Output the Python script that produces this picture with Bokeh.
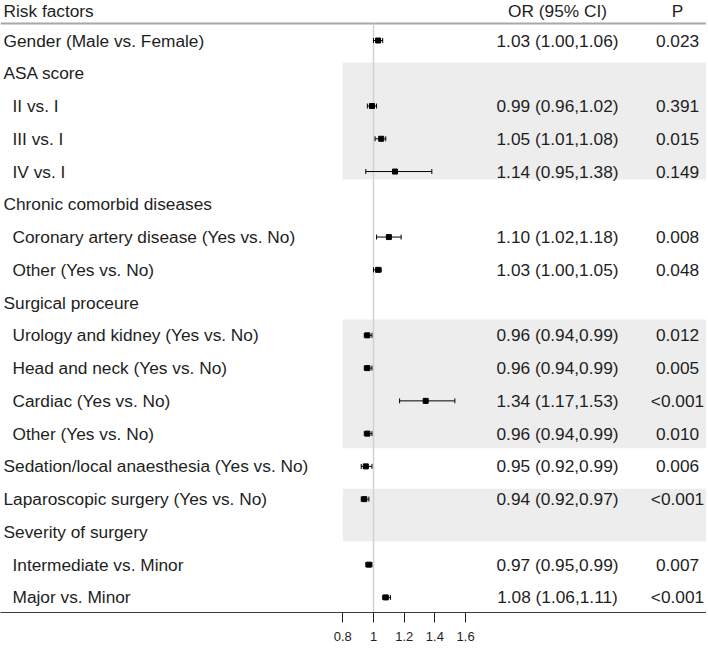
from bokeh.plotting import figure
from bokeh.models import Range1d, LinearAxis, FixedTicker, ColumnDataSource, Whisker, TeeHead
from bokeh.core.properties import value
from bokeh.embed import file_html
from bokeh.resources import INLINE

# ---------------- data ----------------
labels = [
    "Gender (Male vs. Female)",
    "ASA score",
    "II vs. I",
    "III vs. I",
    "IV vs. I",
    "Chronic comorbid diseases",
    "Coronary artery disease (Yes vs. No)",
    "Other (Yes vs. No)",
    "Surgical proceure",
    "Urology and kidney (Yes vs. No)",
    "Head and neck (Yes vs. No)",
    "Cardiac (Yes vs. No)",
    "Other (Yes vs. No)",
    "Sedation/local anaesthesia (Yes vs. No)",
    "Laparoscopic surgery (Yes vs. No)",
    "Severity of surgery",
    "Intermediate vs. Minor",
    "Major vs. Minor",
]
indent = [0, 0, 1, 1, 1, 0, 1, 1, 0, 1, 1, 1, 1, 0, 0, 0, 1, 1]
or_est = [1.03, None, 0.99, 1.05, 1.14, None, 1.10, 1.03, None, 0.96, 0.96, 1.34, 0.96, 0.95, 0.94, None, 0.97, 1.08]
ci_low = [1.00, None, 0.96, 1.01, 0.95, None, 1.02, 1.00, None, 0.94, 0.94, 1.17, 0.94, 0.92, 0.92, None, 0.95, 1.06]
ci_high = [1.06, None, 1.02, 1.08, 1.38, None, 1.18, 1.05, None, 0.99, 0.99, 1.53, 0.99, 0.99, 0.97, None, 0.99, 1.11]
p_values = ["0.023", "", "0.391", "0.015", "0.149", "", "0.008", "0.048", "", "0.012", "0.005", "<0.001",
            "0.010", "0.006", "<0.001", "", "0.007", "<0.001"]
header_labels = ["Risk factors", "OR (95% CI)", "P"]
tick_vals = [0.8, 1.0, 1.2, 1.4, 1.6]
tick_labels = ["0.8", "1", "1.2", "1.4", "1.6"]

# ---------------- layout / style ----------------
W, H = 706, 648
AXIS_H = 36
FRAME_H = H - AXIS_H
ONE_PX, UNIT_PX = 373.0, 153.5       # pixel of OR=1 and pixels per OR unit
ROW0_PX, ROW_PX = 40.0, 32.76         # pixel of first row and row pitch
FONT = "Liberation Sans"
FS = "17.3px"
TXT = "#1e1e1e"
BAND = "#ededed"
HEADER_ROW = -0.915
HEADER_LINE = -0.52
band_top = [0.67, 8.52, 13.68]
band_bottom = [4.24, 12.45, 15.29]
COL_LABEL_X, INDENT_PX = 3, 9
COL_OR_X, COL_P_X = 557, 677

x_range = Range1d(1 - ONE_PX / UNIT_PX, 1 + (W - ONE_PX) / UNIT_PX)
y_range = Range1d((FRAME_H - ROW0_PX) / ROW_PX, -ROW0_PX / ROW_PX)

p = figure(width=W, height=H, x_range=x_range, y_range=y_range,
           output_backend="svg", toolbar_location=None,
           min_border=0, min_border_bottom=AXIS_H,
           x_axis_type=None, y_axis_type=None)
p.outline_line_color = None
p.background_fill_color = "white"
p.border_fill_color = "white"
p.extra_x_ranges = {"px": Range1d(0, W)}

# shaded bands
p.quad(left=tick_vals[0], right=x_range.end, top=band_top, bottom=band_bottom,
       fill_color=BAND, line_color=None)

# header separator
p.segment(x0=0, x1=W, y0=HEADER_LINE, y1=HEADER_LINE, x_range_name="px",
          line_color="#a8a8a8", line_width=2)

# reference line at OR = 1
p.segment(x0=1, x1=1, y0=HEADER_LINE, y1=y_range.start, line_color="#d2d2d2", line_width=1.5)

rows = list(range(len(labels)))
idx = [i for i in rows if or_est[i] is not None]
src = ColumnDataSource(dict(
    y=[rows[i] for i in idx],
    est=[or_est[i] for i in idx],
    lo=[ci_low[i] for i in idx],
    hi=[ci_high[i] for i in idx],
))
wh = Whisker(source=src, base="y", lower="lo", upper="hi", dimension="width",
             line_color="black", line_width=1, level="glyph",
             lower_head=TeeHead(size=5, line_color="black", line_width=1),
             upper_head=TeeHead(size=5, line_color="black", line_width=1))
p.add_layout(wh)
p.scatter(x="est", y="y", source=src, marker="square", size=5,
          fill_color="black", line_color="black", level="annotation")

# left labels
p.text(x=[COL_LABEL_X + INDENT_PX * k for k in indent], y=rows, text=labels,
       x_range_name="px", text_font=value(FONT), text_font_size=FS,
       text_color=TXT, text_baseline="middle", text_align="left")

# OR text column
or_text = [f"{or_est[i]:.2f} ({ci_low[i]:.2f},{ci_high[i]:.2f})" for i in idx]
p.text(x=[COL_OR_X] * len(idx), y=[rows[i] for i in idx], text=or_text,
       x_range_name="px", text_font=value(FONT), text_font_size=FS,
       text_color=TXT, text_baseline="middle", text_align="center")

# P column
p.text(x=[COL_P_X] * len(rows), y=rows, text=p_values,
       x_range_name="px", text_font=value(FONT), text_font_size=FS,
       text_color=TXT, text_baseline="middle", text_align="center")

# headers
p.text(x=[COL_LABEL_X, COL_OR_X, COL_P_X], y=[HEADER_ROW] * 3, text=header_labels,
       x_range_name="px", text_font=value(FONT), text_font_size=FS,
       text_color=TXT, text_baseline="middle",
       text_align=["left", "center", "center"])

# x axis (its line doubles as the table's bottom border)
ax = LinearAxis(ticker=FixedTicker(ticks=tick_vals),
                major_label_overrides=dict(zip(tick_vals, tick_labels)))
ax.axis_line_color = "#3a3a3a"
ax.axis_line_width = 1
ax.major_tick_out = 10
ax.major_tick_in = 0
ax.minor_tick_out = 0
ax.minor_tick_in = 0
ax.major_tick_line_color = "#222222"
ax.major_label_standoff = 9
ax.major_label_text_font = FONT
ax.major_label_text_font_size = "13px"
ax.major_label_text_color = TXT
p.add_layout(ax, "below")

open("out.html", "w").write(file_html(p, INLINE))
